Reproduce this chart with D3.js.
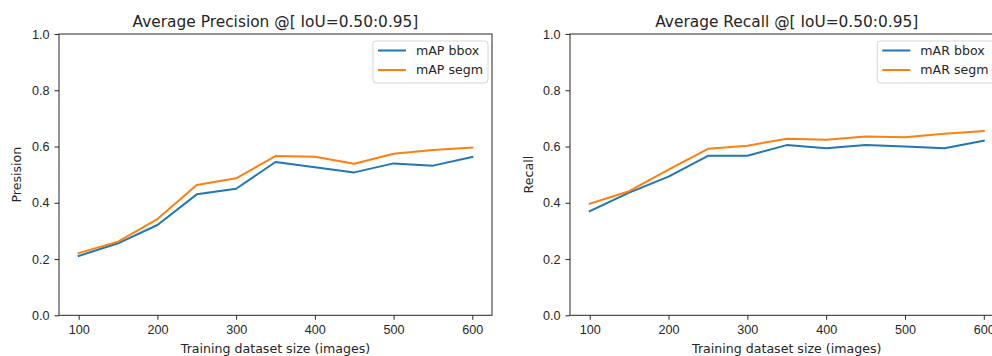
<!DOCTYPE html>
<html>
<head>
<meta charset="utf-8">
<script src="https://cdn.jsdelivr.net/npm/d3@7"></script>
<style>
  body { margin: 0; background: #fff; }
  svg { display: block; font-family: "DejaVu Sans", sans-serif; }
  .tick text { fill: #262626; font-size: 12.6px; }
  .tick line { stroke: #262626; }
</style>
</head>
<body>
<div id="chart"></div>
<script>
// training set sizes (images)
const sizes = [100, 150, 200, 250, 300, 350, 400, 450, 500, 550, 600];
const xTicks = [100, 200, 300, 400, 500, 600];
const yTicks = [0, 0.2, 0.4, 0.6, 0.8, 1.0];

// average precision
const mapBbox = [0.211, 0.256, 0.321, 0.430, 0.450, 0.545, 0.526, 0.508, 0.540, 0.532, 0.563];
const mapSegm = [0.221, 0.262, 0.342, 0.463, 0.487, 0.566, 0.564, 0.539, 0.574, 0.588, 0.596];

// average recall
const marBbox = [0.370, 0.436, 0.493, 0.567, 0.567, 0.605, 0.594, 0.605, 0.600, 0.594, 0.621];
const marSegm = [0.397, 0.441, 0.518, 0.592, 0.603, 0.628, 0.624, 0.636, 0.633, 0.645, 0.655];

const blue = '#1f77b4', orange = '#ff7f0e';

const width = 992, height = 356;
const svg = d3.select('#chart').append('svg')
  .attr('width', width)
  .attr('height', height);

const panels = [
  {
    left: 59, right: 492, legendGap: 4,
    title: 'Average Precision @[ IoU=0.50:0.95]',
    ylabel: 'Presision', labelX: 16,
    series: [
      { name: 'mAP bbox', values: mapBbox, color: blue },
      { name: 'mAP segm', values: mapSegm, color: orange }
    ]
  },
  {
    left: 570, right: 1003.5, legendGap: 10,
    title: 'Average Recall @[ IoU=0.50:0.95]',
    ylabel: 'Recall', labelX: 528,
    series: [
      { name: 'mAR bbox', values: marBbox, color: blue },
      { name: 'mAR segm', values: marSegm, color: orange }
    ]
  }
];

const plotTop = 34, plotBottom = 315.3;

panels.forEach(p => {
  const x = d3.scaleLinear().domain([75, 625]).range([p.left, p.right]);
  const y = d3.scaleLinear().domain([0, 1]).range([plotBottom, plotTop]);
  const g = svg.append('g');

  // lines
  const line = d3.line().x((d, i) => x(sizes[i])).y(d => y(d));
  p.series.forEach(s => {
    g.append('path')
      .attr('d', line(s.values))
      .attr('fill', 'none')
      .attr('stroke', s.color)
      .attr('stroke-width', 2)
      .attr('stroke-linejoin', 'round')
      .attr('stroke-linecap', 'square');
  });

  // axes
  g.append('g')
    .attr('transform', `translate(0,${plotBottom})`)
    .call(d3.axisBottom(x).tickValues(xTicks).tickSize(4.5).tickPadding(5).tickSizeOuter(0))
    .call(a => a.select('.domain').remove());

  g.append('g')
    .attr('transform', `translate(${p.left},0)`)
    .call(d3.axisLeft(y).tickValues(yTicks).tickFormat(d3.format('.1f')).tickSize(4.5).tickPadding(5).tickSizeOuter(0))
    .call(a => a.select('.domain').remove());

  // frame
  g.append('rect')
    .attr('x', p.left).attr('y', plotTop)
    .attr('width', p.right - p.left).attr('height', plotBottom - plotTop)
    .attr('fill', 'none')
    .attr('stroke', '#262626')
    .attr('stroke-width', 1);

  // title and axis labels
  g.append('text')
    .attr('x', (p.left + p.right) / 2).attr('y', 26.5)
    .attr('text-anchor', 'middle')
    .attr('font-size', 15.4)
    .attr('fill', '#262626')
    .text(p.title);

  g.append('text')
    .attr('x', (p.left + p.right) / 2).attr('y', 353)
    .attr('text-anchor', 'middle')
    .attr('font-size', 12.6)
    .attr('fill', '#262626')
    .text('Training dataset size (images)');

  g.append('text')
    .attr('transform', `translate(${p.labelX + 4.5},${(plotTop + plotBottom) / 2}) rotate(-90)`)
    .attr('text-anchor', 'middle')
    .attr('font-size', 12.6)
    .attr('fill', '#262626')
    .text(p.ylabel);

  // legend
  const leg = g.append('g');
  const box = leg.append('rect')
    .attr('fill', 'white')
    .attr('fill-opacity', 0.8)
    .attr('stroke', '#d6d6d6')
    .attr('rx', 3);
  let textW = 0;
  p.series.forEach((s, i) => {
    const ly = 50.5 + i * 19.5;
    leg.append('line')
      .attr('x1', 2).attr('x2', 30)
      .attr('y1', ly).attr('y2', ly)
      .attr('stroke', s.color)
      .attr('stroke-width', 2);
    const t = leg.append('text')
      .attr('x', 40).attr('y', ly)
      .attr('dy', '0.35em')
      .attr('font-size', 12.6)
      .attr('fill', '#262626')
      .text(s.name);
    textW = Math.max(textW, t.node().getComputedTextLength());
  });
  const legW = 40 + textW + 5;
  box.attr('x', -3).attr('y', 41).attr('width', legW + 3).attr('height', 42);
  leg.attr('transform', `translate(${p.right - p.legendGap - legW},0)`);
});
</script>
</body>
</html>
